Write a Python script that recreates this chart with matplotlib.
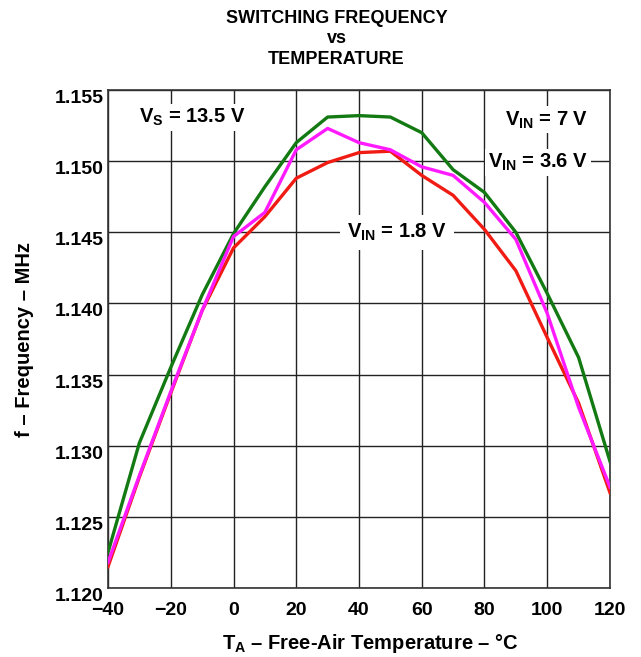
import matplotlib
matplotlib.use("Agg")
import matplotlib.pyplot as plt

plt.rcParams['font.family'] = ['Liberation Sans', 'DejaVu Sans']
plt.rcParams['font.weight'] = 'bold'
plt.rcParams['mathtext.fontset'] = 'custom'
plt.rcParams['mathtext.rm'] = 'Liberation Sans:bold'
plt.rcParams['mathtext.it'] = 'Liberation Sans:bold'
plt.rcParams['mathtext.default'] = 'rm'

temps = [-40, -30, -20, -10, 0, 10, 20, 30, 40, 50, 60, 70, 80, 90, 100, 110, 120]
f_7v = [1.1225, 1.1302, 1.1355, 1.1406, 1.1449, 1.1482, 1.1513, 1.1531, 1.1532, 1.1531,
        1.1520, 1.1494, 1.1478, 1.1450, 1.1407, 1.1362, 1.1289]
f_36v = [1.1218, 1.1279, 1.1338, 1.1395, 1.1447, 1.1464, 1.1508, 1.1523, 1.1513, 1.1508,
         1.1496, 1.1490, 1.1471, 1.1445, 1.1393, 1.1327, 1.1271]
f_18v = [1.1215, 1.1278, 1.1337, 1.1395, 1.1439, 1.1461, 1.1488, 1.1499, 1.1506, 1.1507,
         1.1490, 1.1476, 1.1452, 1.1423, 1.1376, 1.1330, 1.1267]

xticks = [-40, -20, 0, 20, 40, 60, 80, 100, 120]
xlabels = ['\u221240', '\u221220', '0', '20', '40', '60', '80', '100', '120']
yticks = [1.120, 1.125, 1.130, 1.135, 1.140, 1.145, 1.150, 1.155]

fig = plt.figure(figsize=(6.41, 6.57), dpi=100)
ax = fig.add_axes([0.1685, 0.105, 0.7831, 0.758])

ax.plot(temps, f_7v, color='#137a13', lw=2.4, zorder=3)
ax.plot(temps, f_18v, color='#f01c14', lw=2.4, zorder=4)
ax.plot(temps, f_36v, color='#ff1aff', lw=2.4, zorder=5)

ax.set_xlim(-40, 120)
ax.set_ylim(1.120, 1.155)
ax.set_xticks(xticks)
ax.set_xticklabels(xlabels)
ax.set_yticks(yticks)
ax.set_yticklabels(['%.3f' % v for v in yticks])
ax.tick_params(axis='y', length=0, labelsize=14, pad=3)
ax.tick_params(axis='x', length=0, labelsize=14, pad=10)
for lab in ax.get_xticklabels() + ax.get_yticklabels():
    lab.set_fontweight('bold')
for lab in ax.get_yticklabels():
    lab.set_verticalalignment('top')
ax.grid(True, color='#222222', lw=1.0, zorder=1)
for s in ax.spines.values():
    s.set_color('#333333')
    s.set_linewidth(1.2)

box = dict(facecolor='white', edgecolor='none', pad=2)
ax.text(-13.2, 1.1531, r'V$_{S}$ = 13.5 V', fontsize=14.5, fontweight='bold',
        ha='center', va='center', bbox=box, zorder=6)
ax.text(113, 1.1529, r'V$_{IN}$ = 7 V', fontsize=14.5, fontweight='bold',
        ha='right', va='center', bbox=box, zorder=6)
ax.text(113, 1.1499, r'V$_{IN}$ = 3.6 V', fontsize=14.5, fontweight='bold',
        ha='right', va='center', bbox=box, zorder=6)
ax.text(52, 1.1450, r'V$_{IN}$ = 1.8 V', fontsize=14.5, fontweight='bold',
        ha='center', va='center', bbox=dict(facecolor='white', edgecolor='none', pad=5), zorder=6)

ax.set_xlabel('T$_{A}$ \u2013 Free-Air Temperature \u2013 \u00b0C', fontsize=14.5, fontweight='bold')
ax.xaxis.set_label_coords(0.522, -0.088)
ax.set_ylabel('f \u2013 Frequency \u2013 MHz', fontsize=14.5, fontweight='bold')
ax.yaxis.set_label_coords(-0.148, 0.5)

fig.text(0.525, 0.972, 'SWITCHING FREQUENCY', ha='center', va='center', fontsize=13, fontweight='bold')
fig.text(0.525, 0.942, 'vs', ha='center', va='center', fontsize=13, fontweight='bold')
fig.text(0.525, 0.910, 'TEMPERATURE', ha='center', va='center', fontsize=13, fontweight='bold')

fig.savefig('out.png', dpi=100, facecolor='white')
